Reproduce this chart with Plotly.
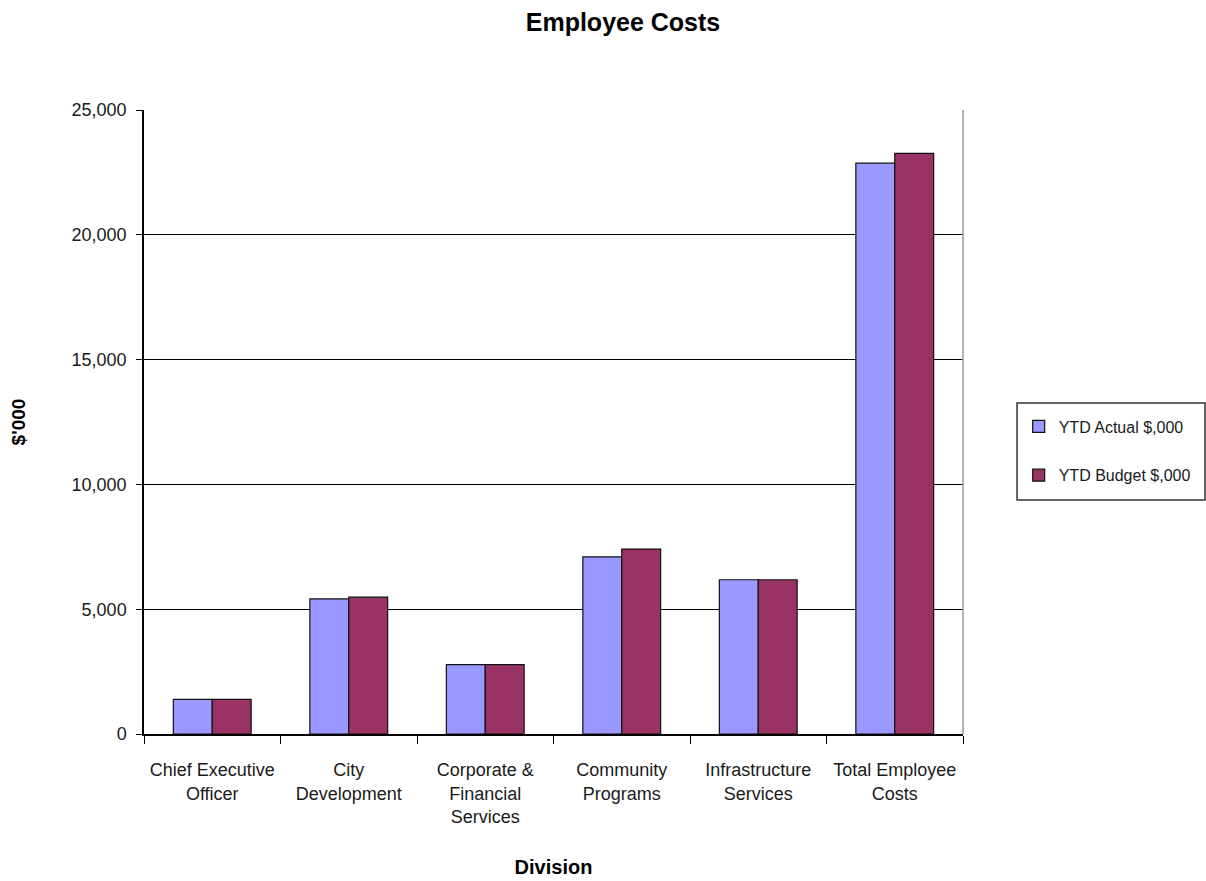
import plotly.graph_objects as go

categories = ["Chief Executive<br>Officer", "City<br>Development", "Corporate &<br>Financial<br>Services",
              "Community<br>Programs", "Infrastructure<br>Services", "Total Employee<br>Costs"]
ytd_actual = [1390, 5410, 2780, 7100, 6180, 22870]
ytd_budget = [1390, 5480, 2780, 7410, 6180, 23260]
series_names = ["YTD Actual $,000", "YTD Budget $,000"]
tick_vals = [0, 5000, 10000, 15000, 20000, 25000]
tick_text = ["0", "5,000", "10,000", "15,000", "20,000", "25,000"]

FONT = "Liberation Sans, Arial, sans-serif"
TXT = "#1a1a1a"

fig = go.Figure()
fig.add_trace(go.Bar(x=categories, y=ytd_actual, name=series_names[0], legendgroup="a",
                     marker=dict(color="#9999FF", line=dict(color="#111111", width=1.2))))
fig.add_trace(go.Bar(x=categories, y=ytd_budget, name=series_names[1], legendgroup="b",
                     marker=dict(color="#993366", line=dict(color="#111111", width=1.2))))

fig.update_layout(
    width=1206, height=881,
    margin=dict(l=144, r=243, t=110, b=147, autoexpand=False),
    paper_bgcolor="white", plot_bgcolor="white",
    barmode="group", bargap=0.43, bargroupgap=0,
    font=dict(family=FONT, size=18, color=TXT),
    title=dict(text="<b>Employee Costs</b>", x=0.5166, xanchor="center", y=0.975, yanchor="middle",
               font=dict(family=FONT, size=25, color="black")),
    legend=dict(x=1.068, xanchor="left", y=0.4535, yanchor="middle",
                borderwidth=0, bgcolor="rgba(0,0,0,0)",
                font=dict(family=FONT, size=16, color=TXT),
                tracegroupgap=25, itemwidth=30, traceorder="grouped"),
    showlegend=True,
)

fig.update_xaxes(
    showline=True, linecolor="black", linewidth=1.5, automargin=False,
    ticks="outside", tickson="boundaries", ticklen=8, tickcolor="black", tickwidth=1,
    showgrid=False, ticklabelstandoff=19, tickangle=0,
    tickfont=dict(family=FONT, size=18, color=TXT),
    title=dict(text="<b>Division</b>", font=dict(family=FONT, size=20, color="black"), standoff=34),
)
fig.update_yaxes(
    range=[0, 25000], tickvals=tick_vals, ticktext=tick_text, automargin=False,
    showline=True, linecolor="black", linewidth=1.5,
    ticks="outside", ticklen=6, tickcolor="black", ticklabelstandoff=6,
    showgrid=True, gridcolor="black", gridwidth=1.3, zeroline=False,
    tickfont=dict(family=FONT, size=18, color=TXT),
    title=dict(text="<b>$'000</b>", font=dict(family=FONT, size=19, color="black"), standoff=41),
)

# plot-area right border
fig.add_shape(type="line", xref="paper", yref="paper", x0=1, x1=1, y0=0, y1=1,
              line=dict(color="#999999", width=1.5))
# legend frame
fig.add_shape(type="rect", xref="paper", yref="paper", x0=1.066, x1=1.2955, y0=0.375, y1=0.5304,
              line=dict(color="#333333", width=1.5), fillcolor="rgba(0,0,0,0)")

fig.write_html("out.html")
